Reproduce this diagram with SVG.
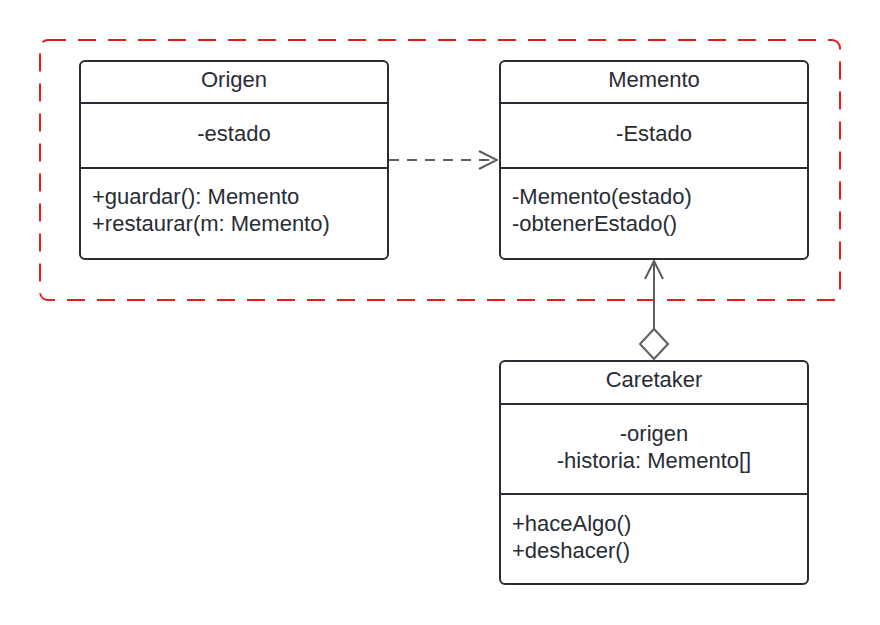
<svg xmlns="http://www.w3.org/2000/svg" width="880" height="625" viewBox="0 0 880 625">
<defs>
<style>
.box{fill:#fff;stroke:#282c33;stroke-width:2}
.div{stroke:#282c33;stroke-width:2}
text{font-family:"Liberation Sans",Arial,sans-serif;font-size:22px;fill:#282c33}
.c{text-anchor:middle}
.conn{stroke:#5e5e5e;stroke-width:2;fill:none}
</style>
<marker id="open" viewBox="0 0 20 20" refX="19" refY="10" markerWidth="20" markerHeight="20" markerUnits="userSpaceOnUse" orient="auto">
<path d="M1,1 L19,10 L1,19" fill="none" stroke="#5e5e5e" stroke-width="2"/>
</marker>
</defs>
<rect width="880" height="625" fill="#fff"/>
<rect x="40" y="40" width="800" height="260" rx="8" fill="none" stroke="#e31c1c" stroke-width="2" stroke-dasharray="18,12"/>
<g id="origen">
<rect class="box" x="80" y="61" width="308" height="198" rx="5"/>
<line class="div" x1="80" y1="103" x2="388" y2="103"/>
<line class="div" x1="80" y1="168" x2="388" y2="168"/>
<text class="c" x="234" y="87">Origen</text>
<text class="c" x="234" y="141">-estado</text>
<text x="92" y="204">+guardar(): Memento</text>
<text x="92" y="231">+restaurar(m: Memento)</text>
</g>
<g id="memento">
<rect class="box" x="500" y="61" width="308" height="198" rx="5"/>
<line class="div" x1="500" y1="103" x2="808" y2="103"/>
<line class="div" x1="500" y1="168" x2="808" y2="168"/>
<text class="c" x="654" y="87">Memento</text>
<text class="c" x="654" y="141">-Estado</text>
<text x="512" y="204">-Memento(estado)</text>
<text x="512" y="231">-obtenerEstado()</text>
</g>
<g id="caretaker">
<rect class="box" x="500" y="361" width="308" height="223" rx="5"/>
<line class="div" x1="500" y1="404" x2="808" y2="404"/>
<line class="div" x1="500" y1="494" x2="808" y2="494"/>
<text class="c" x="654" y="387">Caretaker</text>
<text class="c" x="654" y="441">-origen</text>
<text class="c" x="654" y="468">-historia: Memento[]</text>
<text x="512" y="531">+haceAlgo()</text>
<text x="512" y="558">+deshacer()</text>
</g>
<g id="connectors">
<line class="conn" x1="389" y1="160" x2="497" y2="160" stroke-dasharray="10,8" marker-end="url(#open)"/>
<line class="conn" x1="654" y1="329" x2="654" y2="261" marker-end="url(#open)"/>
<path class="conn" d="M654,329 L668,344 L654,359 L640,344 Z" fill="#fff"/>
</g>
</svg>
